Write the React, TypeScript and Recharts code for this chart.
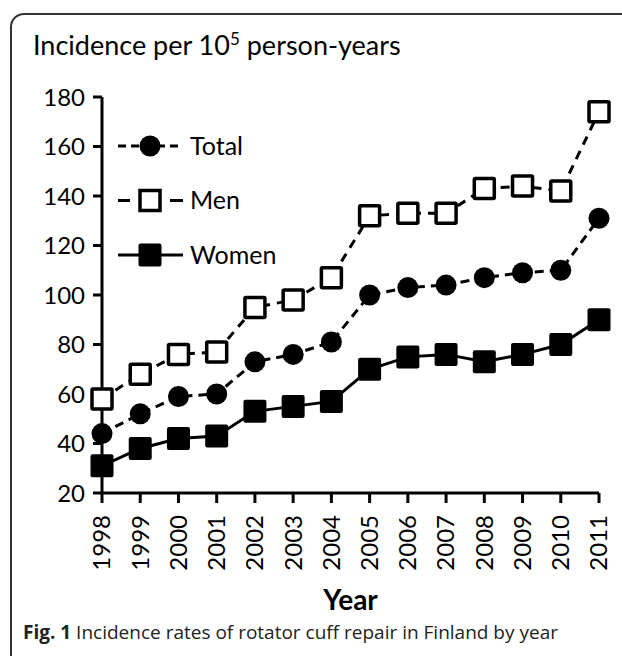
import React from "react";
import { LineChart, Line, XAxis, YAxis } from "recharts";

const years = ["1998", "1999", "2000", "2001", "2002", "2003", "2004", "2005", "2006", "2007", "2008", "2009", "2010", "2011"];
const total = [44, 52, 59, 60, 73, 76, 81, 100, 103, 104, 107, 109, 110, 131];
const men = [58, 68, 76, 77, 95, 98, 107, 132, 133, 133, 143, 144, 142, 174];
const women = [31, 38, 42, 43, 53, 55, 57, 70, 75, 76, 73, 76, 80, 90];
const yTicks = [20, 40, 60, 80, 100, 120, 140, 160, 180];
const seriesNames = ["Total", "Men", "Women"];

const FONT = "Lato, 'Open Sans', sans-serif";

const chartData = years.map((y, i) => ({
    year: y,
    Total: total[i],
    Men: men[i],
    Women: women[i],
}));

const CircleDot = (props: any) => {
    const { cx, cy, index } = props;
    if (cx == null || cy == null) return <g key={`c-${index}`} />;
    return <circle key={`c-${index}`} cx={cx} cy={cy} r={10.5} fill="#000" />;
};

const OpenSquare = (props: any) => {
    const { cx, cy, index } = props;
    if (cx == null || cy == null) return <g key={`o-${index}`} />;
    return (
        <rect key={`o-${index}`} x={cx - 10} y={cy - 10} width={20} height={20} fill="#fff" stroke="#000" strokeWidth={3.5} rx={1} />
    );
};

const FilledSquare = (props: any) => {
    const { cx, cy, index } = props;
    if (cx == null || cy == null) return <g key={`f-${index}`} />;
    return <rect key={`f-${index}`} x={cx - 11.5} y={cy - 11.5} width={23} height={23} fill="#000" rx={2} />;
};

const YearTick = (props: any) => {
    const { x, y, payload } = props;
    return (
        <text
            x={x}
            y={y + 10}
            transform={`rotate(-90, ${x}, ${y + 10})`}
            textAnchor="end"
            dy="0.35em"
            fontSize={24}
            fontFamily={FONT}
            fill="#000"
        >
            {payload.value}
        </text>
    );
};

// legend drawn by hand, it sits inside the plot without taking room
const LegendBox = () => (
    <svg width={200} height={170}>
        {seriesNames.map((name, i) => {
            const cy = 20 + i * 54.5;
            return (
                <g key={name}>
                    {name === "Total" && (
                        <>
                            <line x1={8} x2={73} y1={cy} y2={cy} stroke="#000" strokeWidth={3} strokeDasharray="8 5" />
                            <circle cx={40} cy={cy} r={10.5} fill="#000" />
                        </>
                    )}
                    {name === "Men" && (
                        <>
                            <line x1={8} x2={20} y1={cy} y2={cy} stroke="#000" strokeWidth={3} />
                            <line x1={60} x2={73} y1={cy} y2={cy} stroke="#000" strokeWidth={3} />
                            <rect x={30} y={cy - 10} width={20} height={20} fill="#fff" stroke="#000" strokeWidth={3.5} />
                        </>
                    )}
                    {name === "Women" && (
                        <>
                            <line x1={8} x2={73} y1={cy} y2={cy} stroke="#000" strokeWidth={3} />
                            <rect x={28.5} y={cy - 11.5} width={23} height={23} fill="#000" rx={2} />
                        </>
                    )}
                    <text x={80} y={cy} dy="0.35em" fontSize={25} fontFamily={FONT} fill="#000">
                        {name}
                    </text>
                </g>
            );
        })}
    </svg>
);

export default function App() {
    return (
        <div
            style={{
                position: "absolute",
                left: 0,
                top: 0,
                width: 622,
                height: 656,
                overflow: "hidden",
                background: "#fff",
            }}
        >
            <div
                style={{
                    position: "absolute",
                    left: 10,
                    top: 13,
                    width: 660,
                    height: 720,
                    border: "2px solid #333",
                    borderRadius: 14,
                }}
            />
            <div
                style={{
                    position: "absolute",
                    left: 33,
                    top: 28,
                    fontSize: 27,
                    fontFamily: FONT,
                    color: "#000",
                    whiteSpace: "nowrap",
                }}
            >
                Incidence per 10<sup style={{ fontSize: 17, verticalAlign: "super", lineHeight: 0 }}>5</sup> person-years
            </div>
            <div style={{ position: "absolute", left: 0, top: 0 }}>
                <LineChart width={622} height={656} data={chartData} margin={{ top: 97, right: 23, bottom: 0, left: 0 }}>
                    <XAxis
                        dataKey="year"
                        height={163}
                        stroke="#000"
                        strokeWidth={3}
                        tickSize={10}
                        tick={<YearTick />}
                        interval={0}
                        label={{ value: "Year", position: "insideBottom", offset: 46, fontSize: 28, fontWeight: 700, fontFamily: FONT, fill: "#000" }}
                    />
                    <YAxis
                        width={102}
                        domain={[20, 180]}
                        ticks={yTicks}
                        interval={0}
                        stroke="#000"
                        strokeWidth={3}
                        tickSize={9}
                        tickMargin={8}
                        tick={{ fill: "#000", fontSize: 24, fontFamily: FONT }}
                    />
                    <Line
                        dataKey="Men"
                        stroke="#000"
                        strokeWidth={3}
                        strokeDasharray="9 7"
                        dot={OpenSquare}
                        activeDot={false}
                        isAnimationActive={false}
                    />
                    <Line
                        dataKey="Total"
                        stroke="#000"
                        strokeWidth={3}
                        strokeDasharray="9 6"
                        dot={CircleDot}
                        activeDot={false}
                        isAnimationActive={false}
                    />
                    <Line
                        dataKey="Women"
                        stroke="#000"
                        strokeWidth={3}
                        dot={FilledSquare}
                        activeDot={false}
                        isAnimationActive={false}
                    />
                </LineChart>
            </div>
            <div style={{ position: "absolute", left: 110, top: 126 }}>
                <LegendBox />
            </div>
            <div
                style={{
                    position: "absolute",
                    left: 23,
                    top: 619,
                    fontSize: 19,
                    fontFamily: "'Open Sans', sans-serif",
                    color: "#222",
                    whiteSpace: "nowrap",
                }}
            >
                <b>Fig. 1</b> Incidence rates of rotator cuff repair in Finland by year
            </div>
        </div>
    );
}
